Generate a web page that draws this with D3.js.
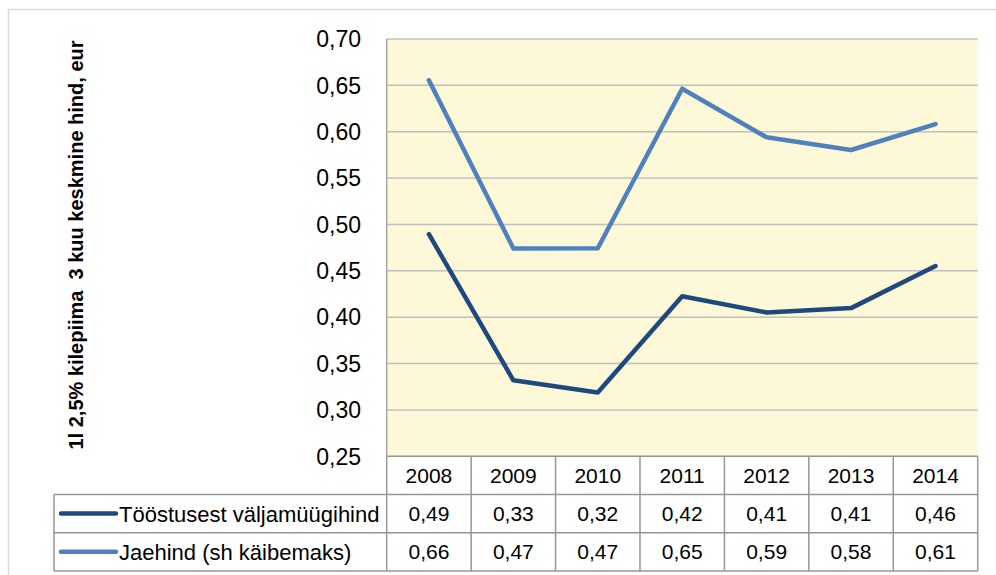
<!DOCTYPE html>
<html>
<head>
<meta charset="utf-8">
<script src="https://cdn.jsdelivr.net/npm/d3@7"></script>
<style>
  body { margin: 0; background: #fff; }
  svg { display: block; font-family: "Liberation Sans", Arial, sans-serif; }
</style>
</head>
<body>
<div id="chart"></div>
<script>
const years = ["2008", "2009", "2010", "2011", "2012", "2013", "2014"];
const seriesNames = ["Tööstusest väljamüügihind", "Jaehind (sh käibemaks)"];
const tootjaHind = [0.4895, 0.332, 0.3187, 0.4226, 0.4051, 0.4098, 0.4552];
const jaeHind = [0.6554, 0.4741, 0.4744, 0.6464, 0.594, 0.5803, 0.6083];
const yTicks = [0.25, 0.30, 0.35, 0.40, 0.45, 0.50, 0.55, 0.60, 0.65, 0.70];
const yTitle = "1l 2,5% kilepiima  3 kuu keskmine hind, eur";

function init() {
  const width = 996;
  const height = 575;
  const colors = ["#1F497D", "#4F81BD"];
  const series = [tootjaHind, jaeHind];

  const left = 386.7, right = 977.7, top = 39, bottom = 456.3;
  const rowH = 38.2;
  const tableLeft = 54;

  const svg = d3.select("#chart")
    .append("svg")
    .attr("width", width)
    .attr("height", height);

  // outer chart frame
  svg.append("rect")
    .attr("x", 8.5).attr("y", 9.5)
    .attr("width", 1000).attr("height", 600)
    .attr("fill", "none")
    .attr("stroke", "#d9d9d9")
    .attr("stroke-width", 1.5);

  const x = d3.scaleBand().domain(years).range([left, right]).padding(0);
  const y = d3.scaleLinear().domain([0.25, 0.70]).range([bottom, top]);
  const cx = d => x(d) + x.bandwidth() / 2;
  const comma = v => d3.format(".2f")(v).replace(".", ",");

  // plot area
  svg.append("rect")
    .attr("x", left).attr("y", top)
    .attr("width", right - left).attr("height", bottom - top)
    .attr("fill", "#FDF9D8");

  svg.append("g")
    .selectAll("line")
    .data(yTicks.slice(1))
    .enter()
    .append("line")
    .attr("x1", left).attr("x2", right)
    .attr("y1", d => y(d)).attr("y2", d => y(d))
    .attr("stroke", "#c0c0c0")
    .attr("stroke-width", 1.5);

  // y axis line
  svg.append("line")
    .attr("x1", left).attr("x2", left)
    .attr("y1", top).attr("y2", bottom)
    .attr("stroke", "#a6a6a6")
    .attr("stroke-width", 1.5);

  svg.append("g")
    .selectAll("text")
    .data(yTicks)
    .enter()
    .append("text")
    .attr("x", 361)
    .attr("y", d => y(d))
    .attr("dy", "0.36em")
    .attr("text-anchor", "end")
    .style("font-size", "23px")
    .attr("fill", "#000")
    .text(d => comma(d));

  svg.append("text")
    .attr("transform", "translate(83," + 245 + ") rotate(-90)")
    .attr("text-anchor", "middle")
    .style("font-size", "20px")
    .style("font-weight", "bold")
    .style("white-space", "pre")
    .attr("xml:space", "preserve")
    .text(yTitle);

  // lines
  const line = d3.line()
    .x((d, i) => cx(years[i]))
    .y(d => y(d));

  svg.append("g")
    .selectAll("path")
    .data(series)
    .enter()
    .append("path")
    .attr("d", line)
    .attr("fill", "none")
    .attr("stroke", (d, i) => colors[i])
    .attr("stroke-width", 4.5)
    .attr("stroke-linejoin", "round")
    .attr("stroke-linecap", "round");

  // data table
  const grid = svg.append("g")
    .attr("stroke", "#969696")
    .attr("stroke-width", 1.5)
    .attr("fill", "none");

  // horizontal rules
  grid.append("line").attr("x1", left).attr("x2", right).attr("y1", bottom).attr("y2", bottom);
  [1, 2, 3].forEach(r => {
    grid.append("line")
      .attr("x1", tableLeft).attr("x2", right)
      .attr("y1", bottom + r * rowH).attr("y2", bottom + r * rowH);
  });
  // vertical rules
  years.forEach(yr => {
    grid.append("line")
      .attr("x1", x(yr)).attr("x2", x(yr))
      .attr("y1", bottom).attr("y2", bottom + 3 * rowH);
  });
  grid.append("line").attr("x1", right).attr("x2", right).attr("y1", bottom).attr("y2", bottom + 3 * rowH);
  grid.append("line").attr("x1", tableLeft).attr("x2", tableLeft).attr("y1", bottom + rowH).attr("y2", bottom + 3 * rowH);

  svg.append("g")
    .selectAll("text")
    .data(years)
    .enter()
    .append("text")
    .attr("x", d => cx(d))
    .attr("y", bottom + rowH / 2)
    .attr("dy", "0.36em")
    .attr("text-anchor", "middle")
    .style("font-size", "21px")
    .text(d => d);

  series.forEach((vals, s) => {
    const rowY = bottom + rowH * (s + 1) + rowH / 2;
    svg.append("line")
      .attr("x1", 61).attr("x2", 116)
      .attr("y1", rowY).attr("y2", rowY)
      .attr("stroke", colors[s])
      .attr("stroke-width", 4.5)
      .attr("stroke-linecap", "round");
    svg.append("text")
      .attr("x", 119)
      .attr("y", rowY)
      .attr("dy", "0.36em")
      .style("font-size", "22px")
      .text(seriesNames[s]);
    svg.append("g")
      .selectAll("text")
      .data(vals)
      .enter()
      .append("text")
      .attr("x", (d, i) => cx(years[i]))
      .attr("y", rowY)
      .attr("dy", "0.36em")
      .attr("text-anchor", "middle")
      .style("font-size", "21px")
      .text(d => comma(d));
  });
}
init();
</script>
</body>
</html>
